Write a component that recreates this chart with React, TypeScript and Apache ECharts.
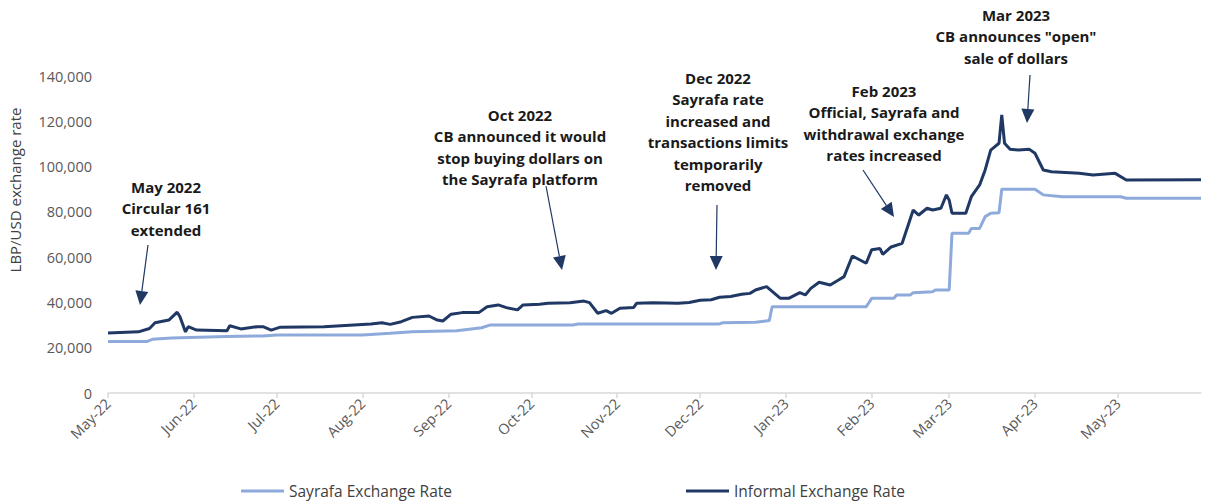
import React, { useEffect, useRef } from "react";
import * as echarts from "echarts";

// ---- Data ----
const startDate = "2022-05-01";
const endDate = "2023-05-31";
const monthNames = ["Jan", "Feb", "Mar", "Apr", "May", "Jun", "Jul", "Aug", "Sep", "Oct", "Nov", "Dec"];
const yTicks = [0, 20000, 40000, 60000, 80000, 100000, 120000, 140000];

const sayrafaDates = [
  "2022-05-01", "2022-05-15", "2022-05-17", "2022-05-24", "2022-06-13", "2022-06-26", "2022-07-01",
  "2022-08-01", "2022-08-11", "2022-08-19", "2022-09-04", "2022-09-13", "2022-09-16", "2022-10-16",
  "2022-10-18", "2022-12-08", "2022-12-09", "2022-12-21", "2022-12-26", "2022-12-27", "2023-01-30",
  "2023-02-01", "2023-02-09", "2023-02-10", "2023-02-15", "2023-02-16", "2023-02-23", "2023-02-24",
  "2023-03-01", "2023-03-02", "2023-03-08", "2023-03-09", "2023-03-12", "2023-03-14", "2023-03-16",
  "2023-03-19", "2023-03-20", "2023-04-01", "2023-04-04", "2023-04-11", "2023-05-02", "2023-05-04",
  "2023-05-31",
];
const sayrafaValues = [
  22700, 22700, 23700, 24300, 24900, 25200, 25600,
  25600, 26400, 27100, 27500, 28800, 30000, 30000,
  30500, 30500, 31000, 31200, 32000, 38100, 38100,
  41800, 41800, 43300, 43300, 44300, 44700, 45500,
  45500, 70500, 70500, 72700, 72700, 77900, 79400,
  79600, 90000, 90000, 87500, 86700, 86700, 86000,
  86000,
];

const informalDates = [
  "2022-05-01", "2022-05-12", "2022-05-16", "2022-05-18", "2022-05-23", "2022-05-26", "2022-05-27",
  "2022-05-29", "2022-05-30", "2022-06-02", "2022-06-13", "2022-06-14", "2022-06-18", "2022-06-24",
  "2022-06-26", "2022-06-29", "2022-07-02", "2022-07-18", "2022-08-04", "2022-08-08", "2022-08-11",
  "2022-08-15", "2022-08-19", "2022-08-25", "2022-08-28", "2022-08-30", "2022-09-02", "2022-09-06",
  "2022-09-12", "2022-09-15", "2022-09-19", "2022-09-22", "2022-09-26", "2022-09-28", "2022-10-04",
  "2022-10-07", "2022-10-15", "2022-10-20", "2022-10-22", "2022-10-25", "2022-10-28", "2022-10-30",
  "2022-11-02", "2022-11-07", "2022-11-08", "2022-11-14", "2022-11-23", "2022-11-27", "2022-12-01",
  "2022-12-05", "2022-12-08", "2022-12-12", "2022-12-16", "2022-12-19", "2022-12-21", "2022-12-25",
  "2022-12-30", "2023-01-02", "2023-01-06", "2023-01-08",
  "2023-01-10", "2023-01-13", "2023-01-17", "2023-01-20", "2023-01-22", "2023-01-25", "2023-01-30",
  "2023-02-01", "2023-02-04", "2023-02-05", "2023-02-08", "2023-02-12", "2023-02-16", "2023-02-18",
  "2023-02-21", "2023-02-23", "2023-02-26", "2023-02-28", "2023-03-01", "2023-03-02", "2023-03-07",
  "2023-03-09", "2023-03-12", "2023-03-14", "2023-03-16", "2023-03-19", "2023-03-20", "2023-03-21",
  "2023-03-23", "2023-03-26", "2023-03-30", "2023-04-01", "2023-04-04", "2023-04-07", "2023-04-17",
  "2023-04-22", "2023-04-30", "2023-05-04", "2023-05-31",
];
const informalValues = [
  26500, 27000, 28500, 31000, 32200, 35700, 33700,
  27000, 29300, 27800, 27500, 29700, 28300, 29300,
  29300, 27800, 29000, 29300, 30500, 31000, 30300,
  31500, 33400, 34000, 32200, 31800, 34800, 35500,
  35500, 38100, 38900, 37700, 36700, 38900, 39200,
  39600, 39900, 40600, 39900, 35200, 36400, 35200,
  37400, 37800, 39600, 39900, 39600, 40000, 41000,
  41200, 42300, 42600, 43600, 44000, 45500, 47000,
  41800, 41800, 44300, 43300,
  46200, 48900, 47700, 49900, 51400, 60500, 57300,
  63300, 63800, 61200, 64500, 66100, 80800, 78600,
  81600, 80800, 81600, 87500, 85200, 79400, 79400,
  86700, 91900, 98500, 107300, 110300, 122800, 110300,
  107600, 107300, 107600, 105900, 98500, 97700, 97000,
  96300, 97000, 94100, 94200,
];

const annotations = [
  { text: "May 2022\nCircular 161\nextended", x: 166, y: 176, arrow: [148, 245, 140, 305] },
  { text: "Oct 2022\nCB announced it would\nstop buying dollars on\nthe Sayrafa platform", x: 520, y: 104, arrow: [546, 186, 562, 270] },
  { text: "Dec 2022\nSayrafa rate\nincreased and\ntransactions limits\ntemporarily\nremoved", x: 718, y: 67, arrow: [717, 205, 716, 270] },
  { text: "Feb 2023\nOfficial, Sayrafa and\nwithdrawal exchange\nrates increased", x: 884, y: 80, arrow: [863, 170, 894, 217] },
  { text: "Mar 2023\nCB announces \"open\"\nsale of dollars", x: 1016, y: 4, arrow: [1030, 75, 1027, 123] },
];

// ---- helpers ----
function buildCategories(): string[] {
  const out: string[] = [];
  const s = Date.parse(startDate + "T00:00:00Z");
  const e = Date.parse(endDate + "T00:00:00Z");
  for (let t = s; t <= e; t += 86400000) out.push(new Date(t).toISOString().slice(0, 10));
  return out;
}

function arrowElements(a: number[], color: string) {
  const [x1, y1, x2, y2] = a;
  const ang = Math.atan2(y2 - y1, x2 - x1);
  const len = 14;
  const half = 6.5;
  const bx = x2 - len * Math.cos(ang);
  const by = y2 - len * Math.sin(ang);
  const px = -Math.sin(ang) * half;
  const py = Math.cos(ang) * half;
  return [
    { type: "line", shape: { x1, y1, x2: bx, y2: by }, style: { stroke: color, lineWidth: 1.2 } },
    {
      type: "polygon",
      shape: { points: [[x2, y2], [bx + px, by + py], [bx - px, by - py]] },
      style: { fill: color },
    },
  ];
}

export default function App() {
  const ref = useRef<HTMLDivElement>(null);
  useEffect(() => {
    if (!ref.current) return;
    const chart = echarts.init(ref.current, undefined, { renderer: "svg" });
    const categories = buildCategories();
    const idx = (d: string) => categories.indexOf(d);
    const isMonthStart = (_i: number, v: string) => v.slice(8, 10) === "01";
    const navy = "#1f3864";
    const light = "#8eaadb";

    const graphics: any[] = [
      {
        type: "text",
        x: 15,
        y: 190,
        rotation: Math.PI / 2,
        style: {
          text: "LBP/USD exchange rate",
          fill: "#404040",
          font: "15px 'Open Sans'",
          textAlign: "center",
          textVerticalAlign: "middle",
        },
      },
    ];
    annotations.forEach((a) => {
      graphics.push({
        type: "text",
        x: a.x,
        y: a.y,
        style: {
          text: a.text,
          fill: "#1a1a1a",
          font: "bold 15px 'Open Sans'",
          lineHeight: 21.5,
          textAlign: "center",
          textVerticalAlign: "top",
        },
      });
      arrowElements(a.arrow, navy).forEach((g) => graphics.push(g));
    });

    chart.setOption({
      animation: false,
      backgroundColor: "#ffffff",
      grid: { left: 108, right: 4, top: 76, bottom: 109, containLabel: false },
      legend: {
        left: 236,
        top: 478,
        itemWidth: 43,
        itemHeight: 3,
        itemGap: 234,
        icon: "rect",
        textStyle: { color: "#404040", fontFamily: "Open Sans", fontSize: 15.5 },
        data: ["Sayrafa Exchange Rate", "Informal Exchange Rate"],
      },
      xAxis: {
        type: "category",
        data: categories,
        boundaryGap: false,
        axisLine: { lineStyle: { color: "#d9d9d9", width: 1.5 } },
        axisTick: { interval: isMonthStart, length: 5, lineStyle: { color: "#d9d9d9", width: 1.5 } },
        axisLabel: {
          interval: isMonthStart,
          rotate: 45,
          margin: 8,
          color: "#595959",
          fontFamily: "Open Sans",
          fontSize: 14.5,
          formatter: (v: string) => monthNames[parseInt(v.slice(5, 7), 10) - 1] + "-" + v.slice(2, 4),
        },
        splitLine: { show: false },
      },
      yAxis: {
        type: "value",
        min: yTicks[0],
        max: yTicks[yTicks.length - 1],
        interval: yTicks[1] - yTicks[0],
        axisLine: { show: false },
        axisTick: { show: false },
        splitLine: { show: false },
        axisLabel: {
          margin: 16,
          color: "#595959",
          fontFamily: "Open Sans",
          fontSize: 14.5,
          formatter: (v: number) => v.toLocaleString("en-US"),
        },
      },
      series: [
        {
          name: "Sayrafa Exchange Rate",
          type: "line",
          showSymbol: false,
          symbol: "none",
          data: sayrafaDates.map((d, i) => [idx(d), sayrafaValues[i]]),
          lineStyle: { color: light, width: 3 },
          itemStyle: { color: light },
        },
        {
          name: "Informal Exchange Rate",
          type: "line",
          showSymbol: false,
          symbol: "none",
          data: informalDates.map((d, i) => [idx(d), informalValues[i]]),
          lineStyle: { color: navy, width: 3 },
          itemStyle: { color: navy },
        },
      ],
      graphic: graphics,
    });
    return () => chart.dispose();
  }, []);
  return (
    <div
      ref={ref}
      style={{ position: "fixed", left: 0, top: 0, width: 1205, height: 502, background: "#fff" }}
    />
  );
}
